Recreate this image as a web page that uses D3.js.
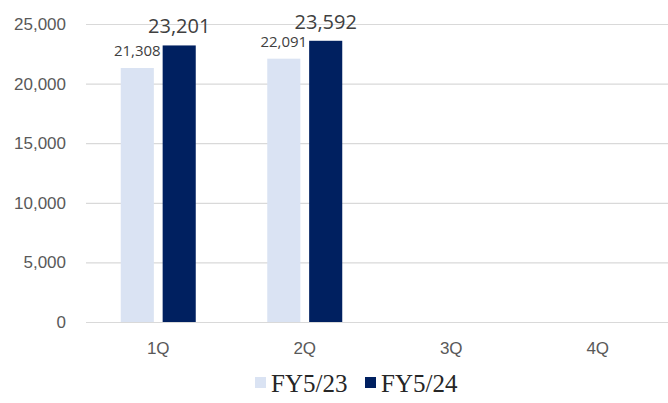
<!DOCTYPE html>
<html>
<head>
<meta charset="utf-8">
<script src="https://cdn.jsdelivr.net/npm/d3@7"></script>
<style>
  body { margin: 0; background: #fff; }
  svg { display: block; font-family: "Open Sans", sans-serif; }
</style>
</head>
<body>
<div class="chart"></div>
<script>
// quarterly values
const quarters = ["1Q", "2Q", "3Q", "4Q"];
const seriesNames = ["FY5/23", "FY5/24"];
const fy23 = [21308, 22091, null, null];
const fy24 = [23201, 23592, null, null];
const yTicks = [0, 5000, 10000, 15000, 20000, 25000];
const colors = ["#dae3f3", "#002060"];

const width = 668, height = 403;

const svg = d3.select(".chart").append("svg")
    .attr("width", width)
    .attr("height", height);

const x = d3.scaleBand()
    .domain(quarters)
    .range([85, 671]);

const groupW = 75;
const x1 = d3.scaleBand()
    .domain(seriesNames)
    .range([0, groupW])
    .paddingInner(0.21);

const y = d3.scaleLinear()
    .domain([0, 25000])
    .range([322, 24]);

const color = d3.scaleOrdinal().domain(seriesNames).range(colors);

// gridlines + y labels
const yAxis = svg.append("g")
    .attr("transform", "translate(86,0)")
    .call(d3.axisLeft(y)
        .tickValues(yTicks)
        .tickSize(-(width - 86))
        .tickPadding(20)
        .tickFormat(d3.format(",")));
yAxis.select(".domain").remove();
yAxis.selectAll(".tick line").attr("stroke", "#d9d9d9").attr("stroke-width", 1.2);
yAxis.selectAll(".tick text")
    .attr("fill", "#595959")
    .style("font-size", "17px");

// category labels
const xAxis = svg.append("g")
    .attr("transform", "translate(0,322)")
    .call(d3.axisBottom(x).tickSize(0).tickPadding(20));
xAxis.select(".domain").remove();
xAxis.selectAll(".tick text")
    .attr("fill", "#595959")
    .style("font-size", "17px");

const rows = quarters.map((q, i) => ({
    q: q,
    vals: [
        { s: seriesNames[0], v: fy23[i] },
        { s: seriesNames[1], v: fy24[i] }
    ].filter(d => d.v != null)
}));

const groups = svg.selectAll(".grp")
    .data(rows)
    .enter().append("g")
    .attr("class", "grp")
    .attr("transform", d => `translate(${x(d.q) + x.bandwidth() / 2 - groupW / 2},0)`);

groups.selectAll("rect")
    .data(d => d.vals)
    .enter().append("rect")
    .attr("x", d => x1(d.s))
    .attr("y", d => y(d.v))
    .attr("width", x1.bandwidth())
    .attr("height", d => y(0) - y(d.v))
    .attr("fill", d => color(d.s));

groups.selectAll("text")
    .data(d => d.vals)
    .enter().append("text")
    .attr("x", d => x1(d.s) + x1.bandwidth() / 2)
    .attr("y", d => y(d.v) - 12)
    .attr("text-anchor", "middle")
    .attr("fill", "#404040")
    .style("font-size", d => d.s === seriesNames[0] ? "15px" : "20px")
    .text(d => d3.format(",")(d.v));

// legend
const legendX = [255, 365];
const legend = svg.append("g");
seriesNames.forEach((s, i) => {
    legend.append("rect")
        .attr("x", legendX[i])
        .attr("y", 377)
        .attr("width", 11)
        .attr("height", 11)
        .attr("fill", color(s));
    legend.append("text")
        .attr("x", legendX[i] + 16)
        .attr("y", 392)
        .attr("fill", "#262626")
        .style("font-family", "'Liberation Serif', 'Times New Roman', serif")
        .style("font-size", "25px")
        .text(s);
});
</script>
</body>
</html>
